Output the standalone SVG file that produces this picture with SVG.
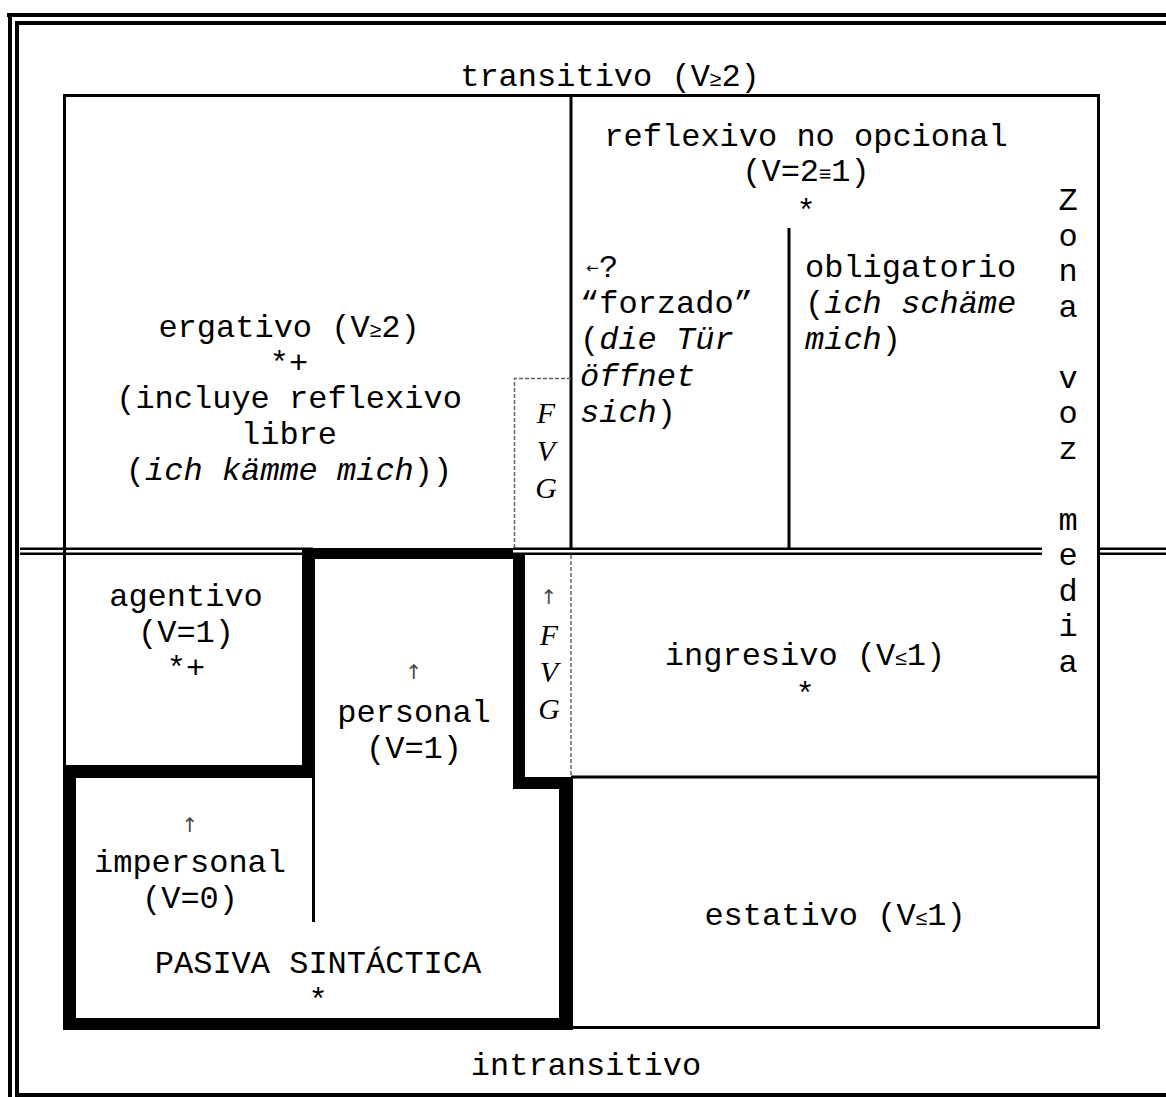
<svg xmlns="http://www.w3.org/2000/svg" width="1166" height="1097" viewBox="0 0 1166 1097">
<style>
.t{font-family:"Liberation Mono","Courier New",monospace;font-size:32px;fill:#000}
.m{text-anchor:middle}
.i{font-style:italic}
.s{font-family:"Liberation Sans",Arial,sans-serif;font-size:21px}
.ar{font-family:"DejaVu Sans",sans-serif;font-size:20px;fill:#444}
.la{font-family:"DejaVu Sans",sans-serif;font-size:15px;fill:#000}
.fvg{font-family:"Liberation Serif","Times New Roman",serif;font-style:italic;font-size:30px;text-anchor:middle;fill:#000}
.thin{stroke:#000;stroke-width:3;fill:none}
.dash{stroke:#666;stroke-width:1.5;stroke-dasharray:4 2;fill:none}
</style>
<rect width="1166" height="1097" fill="#fff"/>
<g id="frame" fill="#000">
<rect x="7" y="13" width="1159" height="4"/>
<rect x="15" y="21" width="1151" height="4"/>
<rect x="8" y="13" width="4" height="1084"/>
<rect x="15" y="21" width="4" height="1076"/>
<rect x="15" y="1093" width="1151" height="4"/>
</g>
<g id="connectors">
<rect class="thin" x="64.5" y="95.5" width="1034" height="932"/>
<line class="thin" x1="571" y1="95" x2="571" y2="548"/>
<line class="thin" x1="789" y1="228" x2="789" y2="548"/>
<line class="thin" x1="571" y1="777" x2="1099" y2="777"/>
<line class="thin" x1="313.5" y1="778" x2="313.5" y2="922"/>
<path class="dash" d="M514.5,548 V378.5 H571"/>
<line class="dash" x1="571" y1="555" x2="571" y2="777"/>
<g fill="#000">
<rect x="20" y="547.5" width="293" height="2.5"/>
<rect x="20" y="552.5" width="293" height="2.5"/>
<rect x="513" y="547.5" width="529" height="2.5"/>
<rect x="513" y="552.5" width="529" height="2.5"/>
<rect x="1098" y="547.5" width="68" height="2.5"/>
<rect x="1098" y="552.5" width="68" height="2.5"/>
</g>
<g id="pasiva-border" fill="#000">
<rect x="302" y="548" width="13" height="230"/>
<rect x="302" y="548" width="211" height="11"/>
<rect x="513" y="555" width="12" height="234"/>
<rect x="513" y="777" width="60" height="12"/>
<rect x="559" y="777" width="14" height="253"/>
<rect x="63" y="1018" width="510" height="12"/>
<rect x="63" y="765" width="13" height="265"/>
<rect x="63" y="765" width="252" height="13"/>
</g>
</g>
<g id="transitivo"><text class="t m" x="610" y="86">transitivo (V<tspan class="s">≥</tspan>2)</text></g>
<g id="intransitivo"><text class="t m" x="586" y="1075">intransitivo</text></g>
<g id="ergativo">
<text class="t m" x="289" y="337">ergativo (V<tspan class="s">≥</tspan>2)</text>
<text class="t m" x="289" y="373">*+</text>
<text class="t m" x="289" y="408">(incluye reflexivo</text>
<text class="t m" x="289" y="444">libre</text>
<text class="t m" x="289" y="480">(<tspan class="i">ich kämme mich</tspan>))</text>
</g>
<g id="reflexivo">
<text class="t m" x="806" y="146">reflexivo no opcional</text>
<text class="t m" x="806" y="181">(V=2<tspan class="s">≡</tspan>1)</text>
<text class="t m" x="806" y="221">*</text>
</g>
<g id="forzado">
<text class="la" x="586" y="273">←</text>
<text class="t" x="599" y="277">?</text>
<text class="t" x="580" y="313">“forzado”</text>
<text class="t" x="580" y="349">(<tspan class="i">die Tür</tspan></text>
<text class="t i" x="580" y="386">öffnet</text>
<text class="t" x="580" y="422"><tspan class="i">sich</tspan>)</text>
</g>
<g id="obligatorio">
<text class="t" x="805" y="277">obligatorio</text>
<text class="t" x="805" y="313">(<tspan class="i">ich schäme</tspan></text>
<text class="t" x="805" y="349"><tspan class="i">mich</tspan>)</text>
</g>
<g id="fvg-upper">
<text class="fvg" x="546" y="423">F</text>
<text class="fvg" x="546" y="461">V</text>
<text class="fvg" x="546" y="498">G</text>
</g>
<g id="fvg-lower">
<text class="ar m" x="549" y="604">↑</text>
<text class="fvg" x="549" y="645">F</text>
<text class="fvg" x="549" y="682">V</text>
<text class="fvg" x="549" y="719">G</text>
</g>
<g id="zona-voz-media">
<text class="t m" x="1068" y="210">Z</text>
<text class="t m" x="1068" y="245.5">o</text>
<text class="t m" x="1068" y="281">n</text>
<text class="t m" x="1068" y="316.5">a</text>
<text class="t m" x="1068" y="387.5">v</text>
<text class="t m" x="1068" y="423">o</text>
<text class="t m" x="1068" y="458.5">z</text>
<text class="t m" x="1068" y="529.5">m</text>
<text class="t m" x="1068" y="565">e</text>
<text class="t m" x="1068" y="600.5">d</text>
<text class="t m" x="1068" y="636">i</text>
<text class="t m" x="1068" y="671.5">a</text>
</g>
<g id="agentivo">
<text class="t m" x="186" y="606">agentivo</text>
<text class="t m" x="186" y="642">(V=1)</text>
<text class="t m" x="186" y="678">*+</text>
</g>
<g id="personal">
<text class="ar m" x="414" y="679">↑</text>
<text class="t m" x="414" y="722">personal</text>
<text class="t m" x="414" y="758">(V=1)</text>
</g>
<g id="ingresivo">
<text class="t m" x="805" y="665">ingresivo (V<tspan class="s">≤</tspan>1)</text>
<text class="t m" x="805" y="704">*</text>
</g>
<g id="impersonal">
<text class="ar m" x="190" y="832">↑</text>
<text class="t m" x="190" y="872">impersonal</text>
<text class="t m" x="190" y="908">(V=0)</text>
</g>
<g id="pasiva">
<text class="t m" x="318" y="973">PASIVA SINTÁCTICA</text>
<text class="t m" x="318" y="1010">*</text>
</g>
<g id="estativo">
<text class="t m" x="835" y="925">estativo (V<tspan class="s">≤</tspan>1)</text>
</g>
</svg>
